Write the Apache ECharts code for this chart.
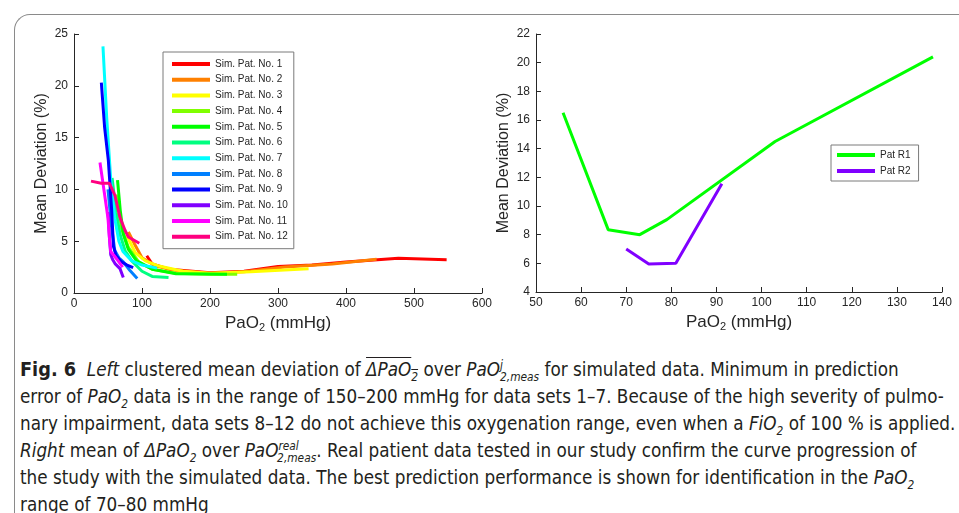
<!DOCTYPE html>
<html>
<head>
<meta charset="utf-8">
<script src="https://cdn.jsdelivr.net/npm/echarts@6/dist/echarts.min.js"></script>
<style>
  html, body { margin: 0; padding: 0; background: #fff; }
  #wrap { position: relative; width: 959px; height: 513px; overflow: hidden; }
  #frame { position: absolute; left: 14px; top: 14px; width: 980px; height: 540px;
           border-top: 1px solid #8a8a8a; border-left: 1px solid #8a8a8a; border-top-left-radius: 16px; }
  #chart { position: absolute; left: 0; top: 0; width: 959px; height: 340px; }
  #caption { position: absolute; left: 20px; top: 356px; font-family: "Liberation Sans Narrow", "DejaVu Sans Condensed", "Liberation Sans", sans-serif;
             font-size: 19px; line-height: 27px; color: #231f20; transform-origin: 0 0; }
  #caption div { white-space: nowrap; }
  #caption b { font-size: 20px; }
  .ov { text-decoration: overline; }
  sub, sup { font-size: 12px; line-height: 0; }
</style>
</head>
<body>
<div id="wrap">
  <div id="frame"></div>
  <div id="chart"></div>
  <div id="caption">
    <div id="l1"><b>Fig. 6</b>&nbsp; <i>Left</i> clustered mean deviation of <i class="ov">ΔPaO<sub>2</sub></i> over <i>PaO<sup>j</sup><sub style="margin-left:-3px">2,meas</sub></i> for simulated data. Minimum in prediction</div>
    <div id="l2">error of <i>PaO<sub>2</sub></i> data is in the range of 150–200 mmHg for data sets 1–7. Because of the high severity of pulmo-</div>
    <div id="l3">nary impairment, data sets 8–12 do not achieve this oxygenation range, even when a <i>FiO<sub>2</sub></i> of 100 % is applied.</div>
    <div id="l4"><i>Right</i> mean of <i>ΔPaO<sub>2</sub></i> over <i>PaO<sup>real</sup><sub style="margin-left:-22px">2,meas</sub></i>. Real patient data tested in our study confirm the curve progression of</div>
    <div id="l5">the study with the simulated data. The best prediction performance is shown for identification in the <i>PaO<sub>2</sub></i></div>
    <div id="l6">range of 70–80 mmHg</div>
  </div>
</div>
<script>
// simulated patients, [PaO2, mean deviation]
const simNames = ['Sim. Pat. No. 1','Sim. Pat. No. 2','Sim. Pat. No. 3','Sim. Pat. No. 4','Sim. Pat. No. 5','Sim. Pat. No. 6',
                  'Sim. Pat. No. 7','Sim. Pat. No. 8','Sim. Pat. No. 9','Sim. Pat. No. 10','Sim. Pat. No. 11','Sim. Pat. No. 12']
const simColors = ['#ff0000','#ff8000','#ffff00','#80ff00','#00ff00','#00ff80','#00ffff','#0080ff','#0000ff','#8000ff','#ff00ff','#ff0080']

const sim1 = [[107,3.6],[115,2.8],[140,2.3],[200,1.95],[250,2.1],[300,2.55],[350,2.7],[400,3.0],[477,3.35],[548,3.2]]
const sim2 = [[80,5.9],[90,4.6],[100,3.4],[120,2.6],[150,2.2],[200,1.9],[250,2.05],[310,2.5],[380,2.8],[445,3.25]]
const sim3 = [[78,5.5],[90,3.9],[105,3.1],[125,2.6],[160,2.1],[200,1.9],[260,2.05],[345,2.35]]
const sim4 = [[62,9.5],[70,6.2],[80,4.4],[95,3.0],[115,2.3],[150,1.9],[200,1.8],[240,1.8]]
const sim5 = [[64,10.9],[68,8],[72.5,5.7],[80,4.2],[92,3.1],[115,2.3],[150,1.85],[225,1.8]]
const sim6 = [[56,11.1],[62,7.8],[67.6,5.7],[75,4.1],[85,3.1],[100,2.1],[115,1.6],[139,1.5]]
const sim7 = [[42.6,23.8],[48,17],[54,11],[60,7.2],[66,5],[72,4.0],[85,3.1],[100,2.7],[122,2.4]]
const sim8 = [[50,10],[55,6.5],[60,4.1],[66,3.4],[72.5,3.0],[82,2.2],[93,1.4]]
const sim9 = [[40.2,20.3],[45,16],[50.5,12.8],[55.4,8.0],[58,4.5],[62,3.6],[70,3.0],[78,2.7],[87,2.45]]
const sim10 = [[50,7.8],[52,5.5],[54,3.7],[57,3.2],[60.3,2.84],[67.6,2.35],[72.5,1.5]]
const sim11 = [[38.2,12.6],[45,9.5],[50,7.2],[52,5.4],[54,4.0],[60.3,3.5],[66,3.0],[71.6,2.5]]
const sim12 = [[25,10.8],[40,10.6],[52,10.6],[60.3,9.4],[67.6,7.3],[75,6.06],[80,5.4],[96,4.8]]
const simData = [sim1,sim2,sim3,sim4,sim5,sim6,sim7,sim8,sim9,sim10,sim11,sim12]

// real patients
const patNames = ['Pat R1','Pat R2']
const patColors = ['#00ff00','#8000ff']
const patR1 = [[56,16.5],[66,8.35],[73,8.0],[79,9.05],[103,14.5],[138,20.4]]
const patR2 = [[70,7.0],[75,5.95],[81,6.0],[91.2,11.55]]

const axisCol = '#262626'
const labelFont = 'Liberation Sans'

function xAx(idx, min, max, interval){
    return {
        type:'value', gridIndex: idx, min: min, max: max, interval: interval,
        name: '{n|PaO}{s|2}{n| (mmHg)}', nameLocation:'middle', nameGap: 19,
        nameTextStyle:{ rich:{ n:{fontSize:17, color:axisCol, fontFamily:labelFont}, s:{fontSize:11, color:axisCol, fontFamily:labelFont, padding:[10,0,0,0]} } },
        axisLine:{ lineStyle:{ color: axisCol } },
        axisTick:{ inside:true, length:5, lineStyle:{ color: axisCol } },
        axisLabel:{ color: axisCol, fontSize: 12, fontFamily: labelFont, margin: 5 },
        splitLine:{ show:false }
    }
}
function yAx(idx, min, max, interval){
    return {
        type:'value', gridIndex: idx, min: min, max: max, interval: interval,
        name:'Mean Deviation (%)', nameLocation:'middle', nameGap: 24,
        nameTextStyle:{ fontSize: 16, color: axisCol, fontFamily: labelFont },
        axisLine:{ show:true, lineStyle:{ color: axisCol } },
        axisTick:{ show:true, inside:true, length:5, lineStyle:{ color: axisCol } },
        axisLabel:{ color: axisCol, fontSize: 12, fontFamily: labelFont, margin: 6 },
        splitLine:{ show:false }
    }
}

const series = simData.map((d,i)=>({
    name: simNames[i], type:'line', xAxisIndex:0, yAxisIndex:0, data: d,
    symbol:'none', smooth:false, color: simColors[i],
    lineStyle:{ width: 3, color: simColors[i] }
})).concat([patR1, patR2].map((d,i)=>({
    name: patNames[i], type:'line', xAxisIndex:1, yAxisIndex:1, data: d,
    symbol:'none', color: patColors[i],
    lineStyle:{ width: 3, color: patColors[i] }
})))

const option = {
    animation: false,
    grid: [
        { left: 74, right: 477, top: 34, height: 259 },
        { left: 536, right: 17, top: 34, height: 258 }
    ],
    xAxis: [ xAx(0, 0, 600, 100), xAx(1, 50, 140, 10) ],
    yAxis: [ yAx(0, 0, 25, 5), yAx(1, 4, 22, 2) ],
    legend: [
        {
            data: simNames, orient:'vertical', left: 163, top: 52,
            icon:'rect', itemWidth: 38, itemHeight: 4, itemGap: 3.7,
            padding:[6, 6, 6, 9], borderColor:'#7a7a7a', borderWidth: 1, backgroundColor:'#fff',
            textStyle:{ fontSize: 10, lineHeight: 12, color: axisCol, fontFamily: labelFont }
        },
        {
            data: patNames, orient:'vertical', left: 831, top: 145,
            icon:'rect', itemWidth: 38, itemHeight: 4, itemGap: 4,
            padding:[4, 8, 4, 6], borderColor:'#7a7a7a', borderWidth: 1, backgroundColor:'#fff',
            textStyle:{ fontSize: 10, lineHeight: 12, color: axisCol, fontFamily: labelFont }
        }
    ],
    series: series
}

const chart = echarts.init(document.getElementById('chart'))
chart.setOption(option)

// squeeze the caption so line 3 spans the column like the printed figure
const cap = document.getElementById('caption')
const w3 = document.getElementById('l3').scrollWidth
cap.style.transform = 'scaleX(' + (935 / w3) + ')'
</script>
</body>
</html>
